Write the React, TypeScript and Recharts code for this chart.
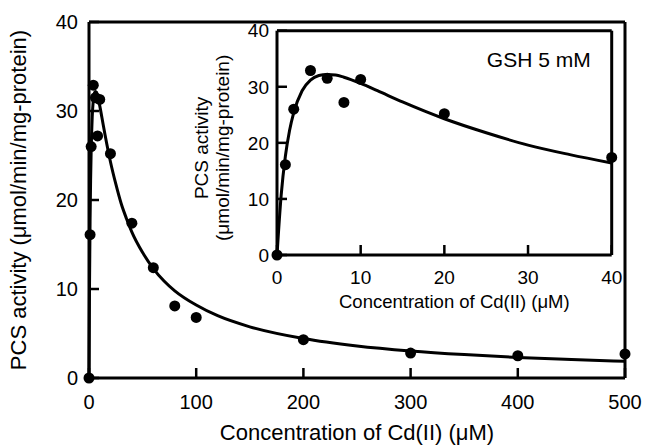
import { ComposedChart, Line, Scatter, XAxis, YAxis, ReferenceLine, Label } from "recharts";

const FONT = '"Liberation Sans", Arial, Helvetica, sans-serif';

// measured points: Cd(II) concentration (uM) vs PCS activity
const cdConc = [0, 1, 2, 4, 6, 8, 10, 20, 40, 60, 80, 100, 200, 300, 400, 500];
const activity = [0, 16.1, 26.0, 32.9, 31.5, 27.2, 31.3, 25.2, 17.4, 12.4, 8.1, 6.8, 4.3, 2.8, 2.5, 2.7];

// fitted curve
const fitConc = [0, 0.5, 1, 1.5, 2, 3, 4, 5, 6, 7, 8, 10, 12, 15, 20, 25, 30, 35, 40, 50, 60, 70, 80, 100, 120, 150, 200, 250, 300, 350, 400, 450, 500];
const fitActivity = [0, 10.7, 17.6, 22.2, 25.4, 29.3, 31.2, 32.0, 32.2, 32.1, 31.7, 30.6, 29.3, 27.3, 24.3, 21.8, 19.6, 17.9, 16.4, 14.1, 12.3, 10.9, 9.8, 8.2, 7.0, 5.75, 4.43, 3.6, 3.04, 2.63, 2.31, 2.07, 1.87];

const mainXTicks = [0, 100, 200, 300, 400, 500];
const insetXTicks = [0, 10, 20, 30, 40];
const yTicks = [0, 10, 20, 30, 40];

const xTitle = "Concentration of Cd(II) (\u03bcM)";
const yTitle = "PCS activity (\u03bcmol/min/mg-protein)";

const points = cdConc.map((x, i) => ({ x, y: activity[i] }));
const fit = fitConc.map((x, i) => ({ x, y: fitActivity[i] }));
const insetPoints = points.filter((p) => p.x <= 40);
const insetFit = fit.filter((p) => p.x <= 40);

const axisLine = { stroke: "#000", strokeWidth: 3 };
const tickLine = { stroke: "#000", strokeWidth: 2.5 };

const Dot = (p: any) => <circle cx={p.cx} cy={p.cy} r={5.5} fill="#000" />;

function bottomTitle(vb: any, text: string, size: number, gap: number, shift = 0) {
  if (!vb) return null;
  return (
    <text x={vb.x + vb.width / 2 + shift} y={vb.y + vb.height + gap} textAnchor="middle" fontSize={size} fontFamily={FONT} fill="#000">
      {text}
    </text>
  );
}

// rotated title lines; baselines are x positions inside the chart
function sideTitle(vb: any, lines: string[], baselines: number[], size: number, shift = 0) {
  if (!vb) return null;
  const cy = vb.y + vb.height / 2 + shift;
  return (
    <g>
      {lines.map((t, i) => (
        <text key={i} x={0} y={0} transform={`translate(${baselines[i]},${cy}) rotate(-90)`} textAnchor="middle" fontSize={size} fontFamily={FONT} fill="#000">
          {t}
        </text>
      ))}
    </g>
  );
}

function Inset() {
  return (
    <ComposedChart width={440} height={310} data={insetFit} margin={{ top: 20.7, right: 18.3, bottom: 25, left: 0 }}>
      <XAxis dataKey="x" type="number" domain={[0, 40]} ticks={insetXTicks} interval={0} height={40} tickSize={-10} tickMargin={26} axisLine={axisLine} tickLine={tickLine} tick={{ fill: "#000", fontSize: 19, fontFamily: FONT }}>
        <Label content={(p: any) => bottomTitle(p.viewBox, xTitle, 18.5, 12.8, 10)} />
      </XAxis>
      <YAxis dataKey="y" type="number" domain={[0, 40]} ticks={yTicks} interval={0} width={87} tickSize={-10} tickMargin={18} axisLine={axisLine} tickLine={tickLine} tick={{ fill: "#000", fontSize: 19, fontFamily: FONT }}>
        <Label content={(p: any) => sideTitle(p.viewBox, ["PCS activity", "(\u03bcmol/min/mg-protein)"], [18, 39], 19, 5)} />
      </YAxis>
      <ReferenceLine y={40} stroke="#000" strokeWidth={3} label={{ value: "GSH 5 mM", position: "insideTopRight", offset: 21, fill: "#000", fontSize: 21, fontFamily: FONT }} />
      <ReferenceLine x={40} stroke="#000" strokeWidth={3} />
      <Line dataKey="y" type="monotone" stroke="#000" strokeWidth={3} dot={false} isAnimationActive={false} />
      <Scatter data={insetPoints} dataKey="y" shape={Dot} isAnimationActive={false} />
    </ComposedChart>
  );
}

export default function App() {
  return (
    <div style={{ position: "absolute", left: 0, top: 0, width: 645, height: 447, background: "#fff" }}>
      <ComposedChart width={645} height={447} data={fit} margin={{ top: 22, right: 20, bottom: 29, left: 0 }}>
        <XAxis dataKey="x" type="number" domain={[0, 500]} ticks={mainXTicks} interval={0} height={40} tickSize={-10} tickMargin={27} axisLine={axisLine} tickLine={tickLine} tick={{ fill: "#000", fontSize: 20, fontFamily: FONT }}>
          <Label content={(p: any) => bottomTitle(p.viewBox, xTitle, 22, 22.4)} />
        </XAxis>
        <YAxis dataKey="y" type="number" domain={[0, 40]} ticks={yTicks} interval={0} width={89} tickSize={-10} tickMargin={21} axisLine={axisLine} tickLine={tickLine} tick={{ fill: "#000", fontSize: 20, fontFamily: FONT }}>
          <Label content={(p: any) => sideTitle(p.viewBox, [yTitle], [26], 22)} />
        </YAxis>
        <ReferenceLine y={40} stroke="#000" strokeWidth={3} />
        <ReferenceLine x={500} stroke="#000" strokeWidth={3} />
        <Line dataKey="y" type="monotone" stroke="#000" strokeWidth={3} dot={false} isAnimationActive={false} />
        <Scatter data={points} dataKey="y" shape={Dot} isAnimationActive={false} />
      </ComposedChart>
      <div style={{ position: "absolute", left: 190, top: 10 }}>
        <Inset />
      </div>
    </div>
  );
}
